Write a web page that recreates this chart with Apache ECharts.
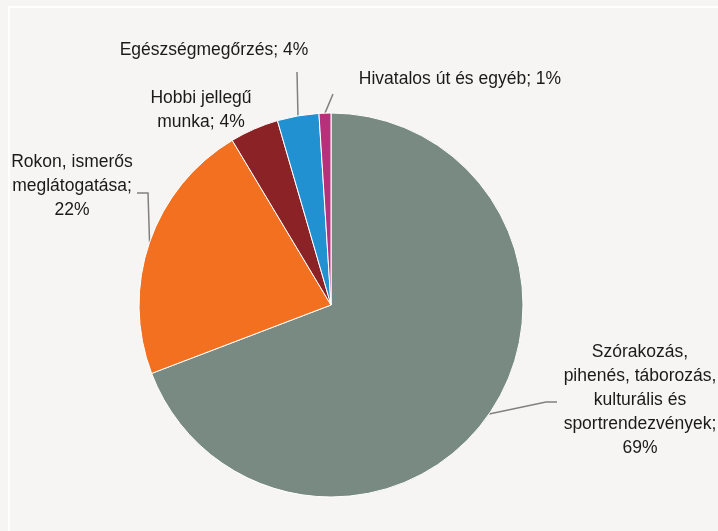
<!DOCTYPE html>
<html lang="hu">
<head>
    <meta charset="UTF-8">
    <title>Utazások célja</title>
    <style>
        *{
            margin: 0;
        }

        body{
            background: #f6f5f3;
            overflow: hidden;
        }

        #frame {
            position: absolute;
            left: 8px;
            top: 6px;
            width: 800px;
            height: 600px;
            border-left: 2px solid #fff;
            border-top: 2px solid #fff;
        }

        #main {
            position: absolute;
            left: 0;
            top: 0;
            width: 718px;
            height: 531px;
        }
    </style>
    <script src="https://cdn.jsdelivr.net/npm/echarts@6/dist/echarts.min.js"></script>
</head>
<body>
<div id="frame"></div>
<div id="main"></div>
<script>
    var categories = [
        'Szórakozás,\npihenés, táborozás,\nkulturális és\nsportrendezvények',
        'Rokon, ismerős\nmeglátogatása',
        'Hobbi jellegű\nmunka',
        'Egészségmegőrzés',
        'Hivatalos út és egyéb'
    ];
    var values = [69.2, 22.2, 4.1, 3.5, 1.0];
    var percentOnNewLine = [true, true, false, false, false];
    var colors = ['#788a82', '#f37021', '#8b2225', '#2291d1', '#b7307a'];

    // label centres and leader line bends, by slice
    var labelPos = [[640, 400], [72, 186], [201, 110], [214, 50], [460, 79]];
    var linePoints = [
        [[546, 402], [557, 402]],
        [[148, 193], [137, 193]],
        null,
        [[297, 72]],
        [[333, 94]]
    ];

    var myChart = echarts.init(document.getElementById('main'));

    var pieData = [];
    for (var i = 0; i < values.length; i++) {
        pieData.push({
            name: categories[i],
            value: values[i],
            itemStyle: {color: colors[i]},
            labelLine: {show: linePoints[i] !== null}
        });
    }

    option = {
        backgroundColor: 'transparent',
        animation: false,
        series: [
            {
                type: 'pie',
                center: [331, 305],
                radius: 192,
                startAngle: 90,
                clockwise: true,
                itemStyle: {
                    borderColor: '#fff',
                    borderWidth: 1
                },
                label: {
                    show: true,
                    position: 'outside',
                    color: '#1a1a1a',
                    fontFamily: '"Liberation Sans", Arial, sans-serif',
                    fontSize: 17.5,
                    lineHeight: 24,
                    align: 'center',
                    overflow: 'none',
                    formatter: function (p) {
                        var sep = percentOnNewLine[p.dataIndex] ? ';\n' : '; ';
                        return p.name + sep + Math.round(p.value) + '%';
                    }
                },
                labelLine: {
                    lineStyle: {color: '#808080', width: 1.5}
                },
                labelLayout: function (params) {
                    var i = params.dataIndex;
                    var res = {
                        x: labelPos[i][0],
                        y: labelPos[i][1],
                        align: 'center',
                        verticalAlign: 'middle'
                    };
                    if (linePoints[i] && params.labelLinePoints) {
                        res.labelLinePoints = [params.labelLinePoints[0]].concat(linePoints[i]);
                    }
                    return res;
                },
                data: pieData
            }
        ]
    };
    myChart.setOption(option);
</script>
</body>
</html>
